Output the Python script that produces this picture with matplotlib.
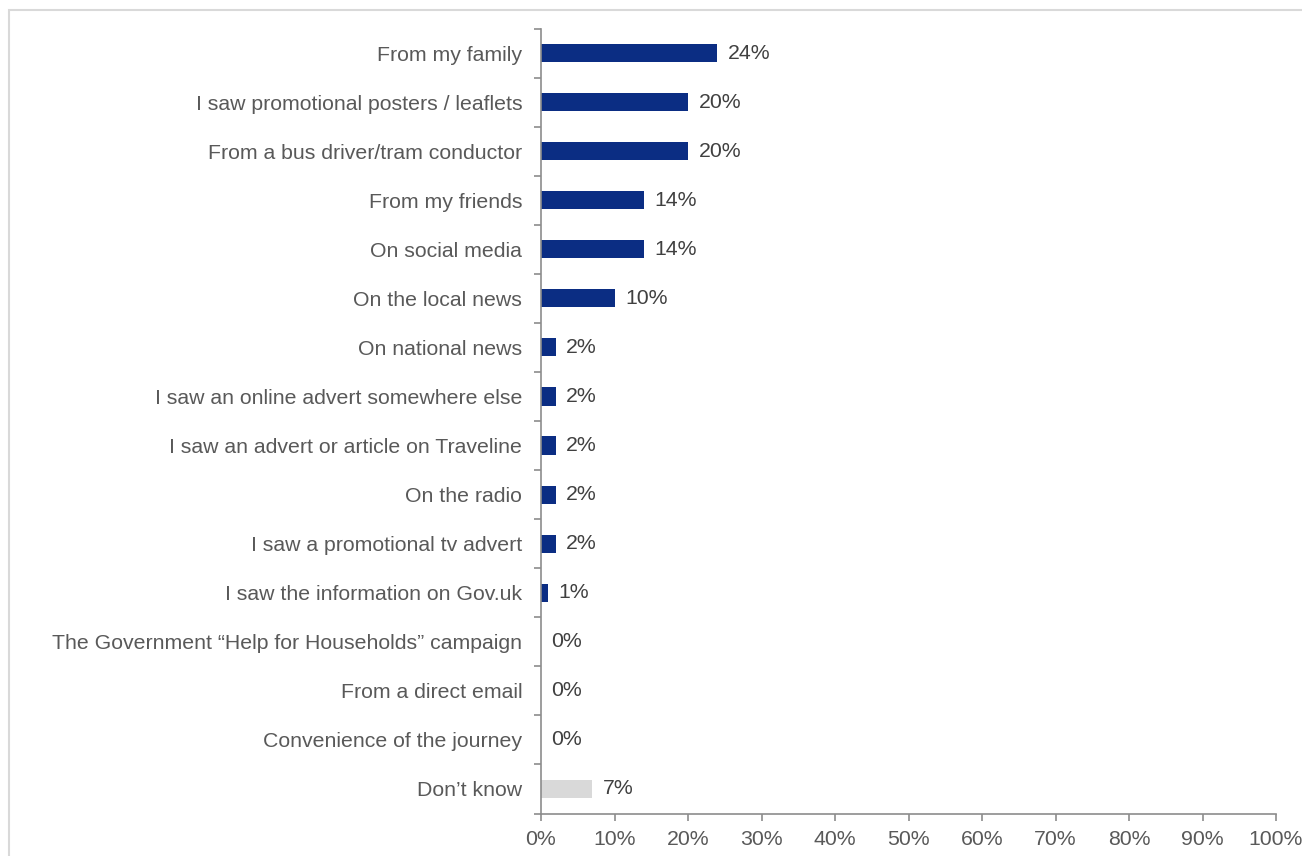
import matplotlib.pyplot as plt
from matplotlib.patches import Rectangle

plt.rcParams['font.family'] = ['Liberation Sans', 'DejaVu Sans']

categories = [
    "From my family",
    "I saw promotional posters / leaflets",
    "From a bus driver/tram conductor",
    "From my friends",
    "On social media",
    "On the local news",
    "On national news",
    "I saw an online advert somewhere else",
    "I saw an advert or article on Traveline",
    "On the radio",
    "I saw a promotional tv advert",
    "I saw the information on Gov.uk",
    "The Government \u201cHelp for Households\u201d campaign",
    "From a direct email",
    "Convenience of the journey",
    "Don\u2019t know",
]
values = [24, 20, 20, 14, 14, 10, 2, 2, 2, 2, 2, 1, 0, 0, 0, 7]
x_ticks = list(range(0, 101, 10))

navy = "#0B2D83"
light = "#D9D9D9"
text_grey = "#595959"
axis_grey = "#8C8C8C"
fs = 15.3

fig = plt.figure(figsize=(13.02, 8.56), dpi=100)
W, H = 1302, 856
ax = fig.add_axes([541 / W, 1 - 813.5 / H, (1276 - 541) / W, (813.5 - 28.5) / H])

# outer frame around the chart area
fig.patches.append(Rectangle((8.5 / W, -0.1), 1.2, 1 - 9.5 / H + 0.1,
                             transform=fig.transFigure, fill=False,
                             edgecolor="#D9D9D9", linewidth=1.5))

colors = [light if c == "Don\u2019t know" else navy for c in categories]
ypos = list(range(len(categories)))
ax.barh(ypos, values, height=0.37, color=colors)

for y, v in zip(ypos, values):
    ax.annotate(f"{v}%", (v, y), xytext=(7.5, 0), textcoords="offset points",
                va="center", ha="left", fontsize=fs, color="#404040")

ax.set_xlim(0, 100)
ax.set_ylim(len(categories) - 0.5, -0.5)
ax.set_xticks(x_ticks)
ax.set_xticklabels([f"{t}%" for t in x_ticks], fontsize=fs, color=text_grey)
ax.set_yticks(ypos)
ax.set_yticklabels(categories, fontsize=fs, color=text_grey)
ax.tick_params(axis="y", length=0, pad=13.5)
ax.tick_params(axis="x", length=5, color=axis_grey, width=1.2, pad=7)

# category separators drawn as minor ticks on the y axis
ax.set_yticks([i - 0.5 for i in range(len(categories) + 1)], minor=True)
ax.tick_params(axis="y", which="minor", length=5, color=axis_grey, width=1.2)

for side in ["top", "right"]:
    ax.spines[side].set_visible(False)
for side in ["left", "bottom"]:
    ax.spines[side].set_color(axis_grey)
    ax.spines[side].set_linewidth(1.2)

fig.savefig("out.png", dpi=100)
